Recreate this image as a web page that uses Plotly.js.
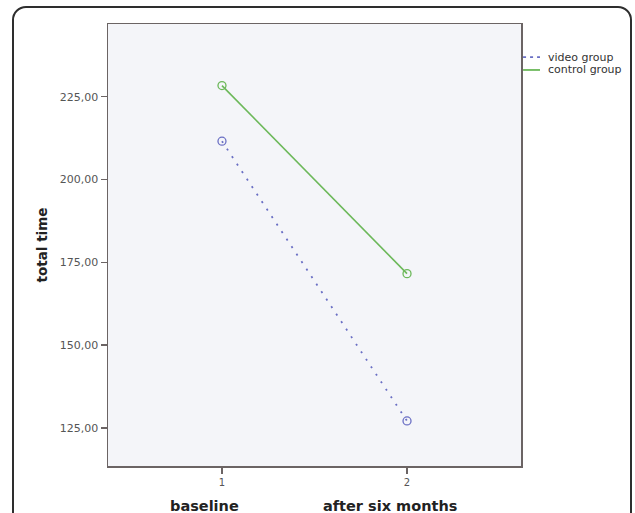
<!DOCTYPE html>
<html>
<head>
<meta charset="utf-8">
<script src="https://cdn.plot.ly/plotly-3.0.1.min.js"></script>
<style>
  html, body { margin: 0; padding: 0; background: #ffffff; }
  #frame { position: absolute; left: 12px; top: 6px; width: 620px; height: 530px;
           border: 2px solid #2e2e2e; border-radius: 14px; box-sizing: border-box; }
  #chart { position: absolute; left: 0; top: 0; width: 635px; height: 513px; }
</style>
</head>
<body>
<div id="frame"></div>
<div id="chart"></div>
<script>
const timepoints = [1, 2];
const timepointLabels = ["baseline", "after six months"];
const videoGroup = [211.6, 127.1];
const controlGroup = [228.4, 171.6];
const seriesNames = ["video group", "control group"];

const blue = "#6a6fc4";
const green = "#6cb85a";

const traces = [
  { x: timepoints, y: videoGroup, name: seriesNames[0], mode: "lines",
    line: { color: blue, width: 1.8, dash: "2px,7px" } },
  { x: timepoints, y: controlGroup, name: seriesNames[1], mode: "lines",
    line: { color: green, width: 1.6 } },
  { x: timepoints, y: videoGroup, mode: "markers",
    marker: { symbol: "circle-open", size: 8, color: blue, line: { width: 1.3, color: blue } } },
  { x: timepoints, y: controlGroup, mode: "markers",
    marker: { symbol: "circle-open", size: 8, color: green, line: { width: 1.3, color: green } } }
];

const axisColor = "#6b6464";

// legend drawn as paper-positioned key (short line samples like the original)
const legendY = [0.925, 0.896];
const legendColors = [blue, green];
const legendDash = ["3px,4px", "solid"];

const layout = {
  width: 635, height: 513,
  margin: { l: 108, r: 114, t: 24, b: 47, autoexpand: false },
  paper_bgcolor: "rgba(0,0,0,0)",
  plot_bgcolor: "#f4f5f9",
  separators: ",.",
  font: { family: "DejaVu Sans", color: "#555555" },
  showlegend: false,
  xaxis: {
    range: [0.384, 2.616], tickvals: timepoints, ticktext: timepoints.map(String),
    showgrid: false, zeroline: false, showline: true, mirror: true,
    linecolor: axisColor, linewidth: 1.5,
    ticks: "outside", ticklen: 6, tickcolor: axisColor, tickwidth: 1.3,
    tickfont: { size: 10, color: "#555555" }
  },
  yaxis: {
    range: [113.5, 247.0], tickvals: [125, 150, 175, 200, 225], tickformat: ".2f",
    showgrid: false, zeroline: false, showline: true, mirror: true,
    linecolor: axisColor, linewidth: 1.5,
    ticks: "outside", ticklen: 6, tickcolor: axisColor, tickwidth: 1.3,
    tickfont: { size: 11, color: "#555555" },
    title: { text: "total time", standoff: 9,
             font: { size: 13.5, weight: "bold", color: "#222222" } }
  },
  shapes: seriesNames.map((n, i) => ({
    type: "line", xref: "paper", yref: "paper",
    x0: 1.005, x1: 1.046, y0: legendY[i], y1: legendY[i],
    line: { color: legendColors[i], width: 1.8, dash: legendDash[i] }
  })),
  annotations: timepointLabels.map((t, i) => ({
    text: t, x: timepoints[i], xref: "x", xshift: -17,
    y: -0.09, yref: "paper", yanchor: "middle", showarrow: false,
    font: { size: 14.5, weight: "bold", color: "#222222" }
  })).concat(seriesNames.map((n, i) => ({
    text: n, x: 1.06, xref: "paper", xanchor: "left",
    y: legendY[i], yref: "paper", yanchor: "middle", showarrow: false,
    font: { size: 11, color: "#333333" }
  })))
};

Plotly.newPlot("chart", traces, layout, { displayModeBar: false, staticPlot: true });
</script>
</body>
</html>
